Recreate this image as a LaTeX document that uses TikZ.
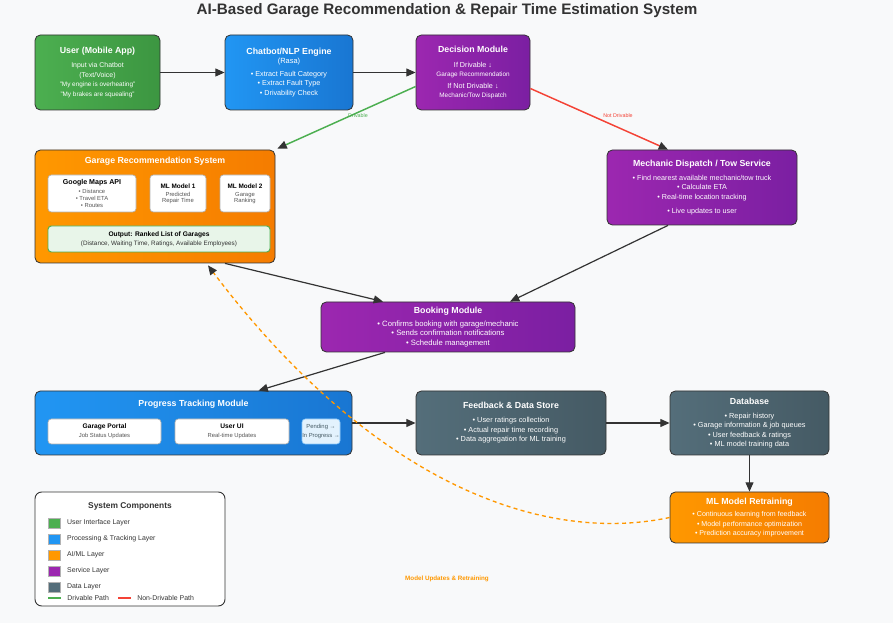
\documentclass[tikz,border=0pt]{standalone}
\usepackage{fontspec}
\setmainfont{Liberation Sans}
\usetikzlibrary{arrows.meta,calc,positioning}
\definecolor{ink}{RGB}{51,51,51}
\definecolor{bg}{RGB}{248,249,250}
\definecolor{uigreen}{RGB}{76,175,80}
\definecolor{uigreendk}{RGB}{60,150,65}
\definecolor{procblue}{RGB}{33,150,243}
\definecolor{procbluedk}{RGB}{25,118,210}
\definecolor{aiorange}{RGB}{255,152,0}
\definecolor{aiorangedk}{RGB}{245,124,0}
\definecolor{svcpurple}{RGB}{156,39,176}
\definecolor{svcpurpledk}{RGB}{123,31,162}
\definecolor{dataslate}{RGB}{84,110,122}
\definecolor{dataslatedk}{RGB}{69,90,100}
\definecolor{nored}{RGB}{244,67,54}
\definecolor{outgreen}{RGB}{232,245,233}
\definecolor{pendblue}{RGB}{227,242,253}
\definecolor{pendedge}{RGB}{144,202,249}
\definecolor{subgray}{RGB}{85,85,85}
\tikzset{>={Triangle[length=7pt,width=6pt]}}

\newcommand{\bxt}[1]{{\fontsize{6.6}{8}\selectfont\bfseries #1}}
\newcommand{\sml}[1]{{\fontsize{4.8}{6}\selectfont #1}}

\begin{document}
\begin{tikzpicture}[x=0.75pt,y=-0.75pt,
  box/.style 2 args={rounded corners=4pt,draw=ink,line width=0.6pt,
    inner sep=0pt,minimum width=#1*0.75pt,minimum height=#2*0.75pt,
    text=white,align=center,font=\fontsize{5.4}{7.1}\selectfont},
  inbox/.style 2 args={rounded corners=2.5pt,draw=gray!60,fill=white,
    line width=0.5pt,inner sep=0pt,minimum width=#1*0.75pt,
    minimum height=#2*0.75pt,text=subgray,align=center,
    font=\fontsize{4.4}{5.2}\selectfont},
  uifill/.style={left color=uigreen,right color=uigreendk},
  procfill/.style={left color=procblue,right color=procbluedk},
  aifill/.style={left color=aiorange,right color=aiorangedk},
  svcfill/.style={left color=svcpurple,right color=svcpurpledk},
  datafill/.style={left color=dataslate,right color=dataslatedk},
  boxtitle/.style={text=white,font=\fontsize{6.6}{8}\selectfont\bfseries},
  flow/.style={ink,line width=0.9pt,->},
  darktip/.style={-{Triangle[length=7pt,width=6pt,color=ink]}},
  pathlabel/.style={font=\fontsize{4}{5}\selectfont},
  swatch/.style={draw=gray!60,line width=0.3pt,minimum width=9pt,
    minimum height=7.5pt,inner sep=0pt},
  legtext/.style={text=ink,font=\fontsize{5.2}{6}\selectfont,inner sep=0pt}]

  \useasboundingbox (0,0) rectangle (893,623);
  \fill[bg] (0,0) rectangle (893,623);

  % Title
  \node[ink,font=\fontsize{11.4}{13}\selectfont\bfseries] (title) at (447,11)
    {AI-Based Garage Recommendation \& Repair Time Estimation System};

  % Top row: user, NLP, decision
  \node[box={125}{75},uifill,font=\fontsize{5.2}{7.1}\selectfont] (user) at (97.5,72.5)
    {\bxt{User (Mobile App)}\\[3.4pt] Input via Chatbot\\(Text/Voice)\\
     \sml{"My engine is overheating"}\\ \sml{"My brakes are squealing"}};

  \node[box={128}{75},procfill] (chatbot) at (289,72.5)
    {\bxt{Chatbot/NLP Engine}\\[-0.5pt] {\fontsize{5.6}{7}\selectfont (Rasa)}\\[2.5pt]
     • Extract Fault Category\\ • Extract Fault Type\\ • Drivability Check};

  \node[box={114}{75},svcfill] (decision) at (473,72.5)
    {\bxt{Decision Module}\\[4pt] If Drivable ↓\\[-0.8pt] \sml{Garage Recommendation}\\[2.5pt]
     If Not Drivable ↓\\[-0.8pt] \sml{Mechanic/Tow Dispatch}};

  % Garage recommendation system
  \node[box={240}{113},aifill] (garage) at (155,206.5) {};
  \node[boxtitle] (garagetitle) at (155,161) {Garage Recommendation System};

  \node[inbox={88}{37}] (gmaps) at (92,193.5)
    {{\fontsize{5.3}{6}\selectfont\bfseries\color{black}Google Maps API}\\[1.2pt]
     • Distance\\ • Travel ETA\\ • Routes};
  \node[inbox={56}{37}] (mlone) at (178,193.5)
    {{\fontsize{4.8}{6}\selectfont\bfseries\color{black}ML Model 1}\\[1pt]
     Predicted\\[-0.7pt] Repair Time};
  \node[inbox={50}{37}] (mltwo) at (245,193.5)
    {{\fontsize{4.8}{6}\selectfont\bfseries\color{black}ML Model 2}\\[1pt]
     Garage\\[-0.7pt] Ranking};

  \node[inbox={222}{26},fill=outgreen,draw=uigreen,line width=0.7pt,text=ink,
    font=\fontsize{4.75}{5.5}\selectfont] (output) at (159,239)
    {{\fontsize{5}{6}\selectfont\bfseries\color{black}Output: Ranked List of Garages}\\[1.5pt]
     (Distance, Waiting Time, Ratings, Available Employees)};

  % Mechanic dispatch
  \node[box={190}{75},svcfill] (mechanic) at (702,187.5)
    {\bxt{Mechanic Dispatch / Tow Service}\\[3.4pt]
     • Find nearest available mechanic/tow truck\\ • Calculate ETA\\
     • Real-time location tracking\\[4pt] • Live updates to user};

  % Booking
  \node[box={254}{50},svcfill,font=\fontsize{5.75}{7.1}\selectfont] (booking) at (448,327)
    {\bxt{Booking Module}\\[2.6pt] • Confirms booking with garage/mechanic\\
     • Sends confirmation notifications\\ • Schedule management};

  % Progress tracking
  \node[box={317}{64},procfill] (progress) at (193.5,423) {};
  \node[boxtitle] (progresstitle) at (193.5,404) {Progress Tracking Module};
  \node[inbox={113}{25}] (portal) at (104.5,431.5)
    {{\fontsize{5}{6}\selectfont\bfseries\color{black}Garage Portal}\\[1.5pt] Job Status Updates};
  \node[inbox={114}{25}] (userui) at (232,431.5)
    {{\fontsize{5}{6}\selectfont\bfseries\color{black}User UI}\\[1.5pt] Real-time Updates};
  \node[inbox={38}{25},fill=pendblue,draw=pendedge,text=dataslatedk] (pending) at (321,431.5)
    {Pending →\\[1pt] In Progress →};

  % Data side
  \node[box={190}{64},datafill,font=\fontsize{5.5}{7.1}\selectfont] (feedback) at (511,423)
    {\bxt{Feedback \& Data Store}\\[3.4pt] • User ratings collection\\
     • Actual repair time recording\\ • Data aggregation for ML training};
  \node[box={159}{64},datafill,font=\fontsize{5.5}{7.1}\selectfont] (database) at (749.5,423)
    {\bxt{Database}\\[3.2pt] • Repair history\\ • Garage information \& job queues\\
     • User feedback \& ratings\\ • ML model training data};
  \node[box={159}{51},aifill,font=\fontsize{5.3}{7.1}\selectfont] (retrain) at (749.5,517.5)
    {\bxt{ML Model Retraining}\\[2.6pt] • Continuous learning from feedback\\
     • Model performance optimization\\ • Prediction accuracy improvement};

  % Connectors
  \draw[flow] (user) -- (chatbot);
  \draw[flow] (chatbot) -- (decision);
  \draw[uigreen,line width=1.1pt,darktip]
    ($(decision.west)+(0,14)$) -- ($(garage.north east)+(2,-1)$);
  \node[pathlabel,text=uigreen] (drivlabel) at (358,116) {Drivable};
  \draw[nored,line width=1.1pt,darktip]
    ($(decision.east)+(0,16)$) -- ($(mechanic.north)+(-34,0)$);
  \node[pathlabel,text=nored] (notdrivlabel) at (618,116) {Not Drivable};

  \draw[flow] ($(garage.south)+(70,0)$) -- ($(booking.north)+(-65,0)$);
  \draw[flow] ($(mechanic.south)+(-34,0)$) -- ($(booking.north)+(62,0)$);
  \draw[flow] ($(booking.south)+(-63,0)$) -- ($(progress.north)+(65,0)$);
  \draw[flow] (progress.east) -- (progress.east -| feedback.west);
  \draw[flow] (feedback.east) -- (feedback.east -| database.west);
  \draw[flow] (database) -- (retrain);

  % Retraining feedback loop
  \draw[aiorange,line width=1pt,dash pattern=on 3pt off 2.5pt,darktip]
    (retrain.west) .. controls (540,545) and (370,480) .. ($(garage.south)+(53,2)$);
  \node[text=aiorange,font=\fontsize{4.7}{5}\selectfont\bfseries] (looplabel)
    at (447,579) {Model Updates \& Retraining};

  % Legend
  \node[draw=ink,line width=0.7pt,fill=white,rounded corners=5pt,
    minimum width=142.5pt,minimum height=85.5pt] (legend) at (130,549) {};
  \node[text=ink,font=\fontsize{6.3}{8}\selectfont\bfseries] (legendtitle)
    at (130,506) {System Components};
  \foreach \col/\txt [count=\i] in {uigreen/{User Interface Layer},
      procblue/{Processing \& Tracking Layer},aiorange/{AI/ML Layer},
      svcpurple/{Service Layer},dataslate/{Data Layer}}
  {
    \node[swatch,fill=\col] (sw\i) at (54,{507+16*\i}) {};
    \node[legtext,right=5pt of sw\i] (lg\i) {\txt};
  }
  \coordinate (okstart) at (48,598);
  \coordinate (okend) at (61,598);
  \draw[uigreen,line width=1.3pt] (okstart) -- (okend);
  \node[legtext,anchor=west] (oklabel) at (67,598) {Drivable Path};
  \coordinate (nostart) at (118,598);
  \coordinate (noend) at (131,598);
  \draw[nored,line width=1.3pt] (nostart) -- (noend);
  \node[legtext,anchor=west] (nolabel) at (137,598) {Non-Drivable Path};

\end{tikzpicture}
\end{document}
